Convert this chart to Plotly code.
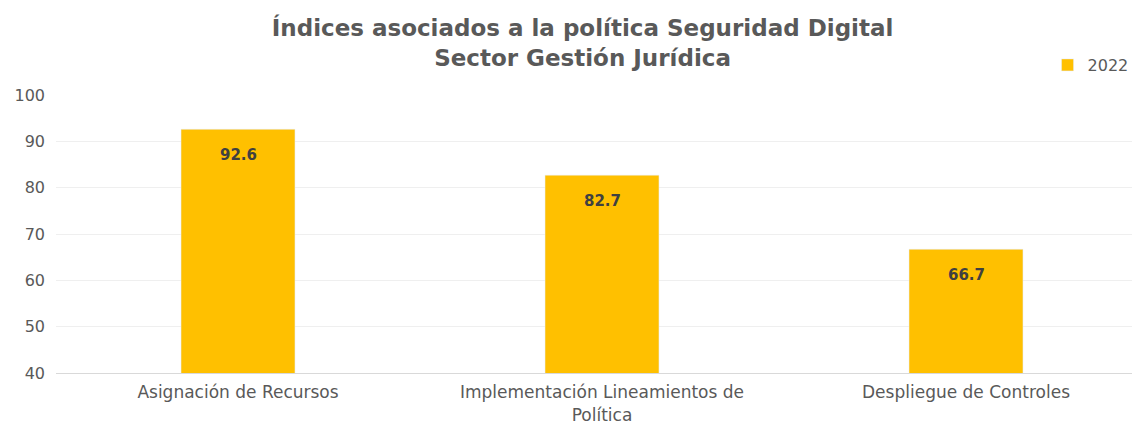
import plotly.graph_objects as go

categories = ["Asignación de Recursos", "Implementación Lineamientos de<br>Política", "Despliegue de Controles"]
values_2022 = [92.6, 82.7, 66.7]
series_name = "2022"
y_ticks = [40, 50, 60, 70, 80, 90, 100]

FONT = "DejaVu Sans"

fig = go.Figure()
fig.add_trace(go.Bar(
    x=categories, y=values_2022, name=series_name,
    marker=dict(color="#FFC000"), width=0.313,
))
for c, v in zip(categories, values_2022):
    fig.add_annotation(x=c, y=v, text=f"<b>{v:.1f}</b>", showarrow=False,
                       yshift=-26, font=dict(size=15, color="#404040", family=FONT))

fig.update_layout(
    width=1140, height=427,
    margin=dict(l=48, r=0, t=87, b=62, autoexpand=False),
    paper_bgcolor="white", plot_bgcolor="white",
    font=dict(family=FONT, color="#595959", size=16),
    title=dict(text="<b>Índices asociados a la política Seguridad Digital<br>Sector Gestión Jurídica</b>",
               x=0.504, xanchor="center", y=0.935, yanchor="top",
               font=dict(size=23, color="#595959", family=FONT)),
    showlegend=True,
    legend=dict(x=0.908, xanchor="left", y=1.108, yanchor="middle",
                font=dict(size=16, color="#595959"), itemwidth=30,
                bgcolor="rgba(0,0,0,0)"),
    bargap=0.6,
)
fig.update_xaxes(range=[-0.5, 2.5], showgrid=False, showline=True,
                 linecolor="#d9d9d9", linewidth=1, ticks="",
                 ticklabelstandoff=4,
                 tickfont=dict(size=17, color="#595959"))
fig.update_yaxes(range=[40, 100], tickvals=y_ticks, showgrid=True,
                 gridcolor="#efefef", gridwidth=1, zeroline=False,
                 showline=False, ticks="", ticklabelstandoff=10,
                 tickfont=dict(size=16, color="#595959"))
fig.write_html("out.html")
